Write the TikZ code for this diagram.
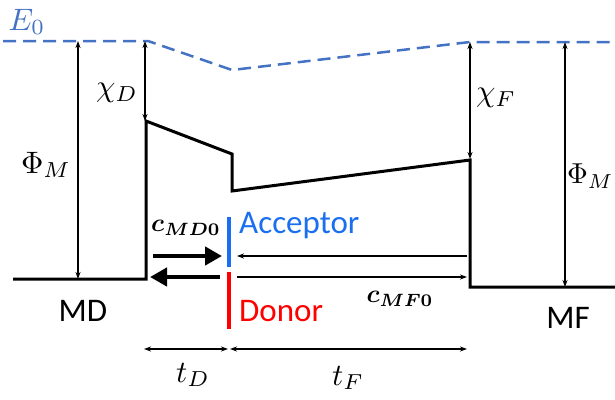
\documentclass[tikz,border=0pt]{standalone}
\usepackage{amsmath}
\usepackage{fontspec}
\setmainfont{Carlito}
\usetikzlibrary{arrows.meta}
\definecolor{vacblue}{HTML}{4472C4}
\definecolor{accblue}{HTML}{1A6EF0}
\definecolor{donred}{HTML}{FF0000}
\tikzset{
  band/.style={line width=3pt, line join=miter},
  vac/.style={vacblue, line width=2.5pt, dash pattern=on 13pt off 7pt},
  dim/.style={line width=1.2pt, {Stealth[length=7pt,width=5pt]}-{Stealth[length=7pt,width=5pt]}},
  thinarr/.style={line width=1.2pt, -{Stealth[length=7pt,width=5pt]}},
  fatarr/.style={line width=4.5pt, -{Triangle[length=17pt,width=18pt]}},
  txt/.style={font=\fontsize{33}{36}\selectfont, inner sep=0pt},
  mth/.style={font=\fontsize{10}{12}\selectfont, inner sep=0pt, scale=3.1, transform shape},
  cmth/.style={mth, scale=0.82},
}
\begin{document}
\begin{tikzpicture}[x=1pt,y=-1pt]
\useasboundingbox (0,0) rectangle (615,399);
% coordinates
\coordinate (v0) at (3,41);
\coordinate (v1) at (148,41);
\coordinate (v2) at (232,70);
\coordinate (v3) at (470,42);
\coordinate (v4) at (615,42);
\coordinate (b0) at (13,279);
\coordinate (b1) at (146,279);
\coordinate (b2) at (146,121);
\coordinate (b3) at (232,154);
\coordinate (b4) at (232,191);
\coordinate (b5) at (470,160);
\coordinate (b6) at (470,287);
\coordinate (b7) at (615,287);
% vacuum level
\draw[vac] (v0) -- (v1) -- (v2) -- (v3) -- (v4);
% band
\draw[band] (b0) -- (b1) -- (b2) -- (b3) -- (b4) -- (b5) -- (b6) -- (b7);
% energy arrows
\coordinate (pl1) at (78,41);  \coordinate (pl2) at (78,279);
\coordinate (cd1) at (145,41); \coordinate (cd2) at (145,121);
\coordinate (cf1) at (470,42); \coordinate (cf2) at (470,159);
\coordinate (pr1) at (565,42); \coordinate (pr2) at (565,287);
\draw[dim] (pl1) -- (pl2);
\draw[dim] (cd1) -- (cd2);
\draw[dim] (cf1) -- (cf2);
\draw[dim] (pr1) -- (pr2);
% interface lines
\coordinate (a1) at (229,217); \coordinate (a2) at (229,267);
\coordinate (d1) at (229,272); \coordinate (d2) at (229,329);
\draw[accblue, line width=3.5pt] (a1) -- (a2);
\draw[donred, line width=3.5pt] (d1) -- (d2);
% fat arrows
\coordinate (f1) at (153,256); \coordinate (f2) at (222,256);
\coordinate (f3) at (220,277); \coordinate (f4) at (150,277);
\draw[fatarr] (f1) -- (f2);
\draw[fatarr] (f3) -- (f4);
% thin arrows
\coordinate (t1) at (467,256); \coordinate (t2) at (237,256);
\coordinate (t3) at (237,277); \coordinate (t4) at (467,277);
\draw[thinarr] (t1) -- (t2);
\draw[thinarr] (t3) -- (t4);
% thickness arrows
\coordinate (w1) at (144,349); \coordinate (w2) at (228,349);
\coordinate (w3) at (230,349); \coordinate (w4) at (467,349);
\draw[dim] (w1) -- (w2);
\draw[dim] (w3) -- (w4);
% labels
\node[mth, text=vacblue] (e0) at (27,22) {$E_0$};
\node[mth] (phil) at (46,165) {$\Phi_M$};
\node[mth] (chid) at (117,93) {$\chi_D$};
\node[mth] (chif) at (496,98) {$\chi_F$};
\node[mth, scale=0.93, anchor=east] (phir) at (614,176) {$\Phi_M$};
\node[cmth] (cmd) at (186,228) {$\boldsymbol{c}_{\boldsymbol{MD0}}$};
\node[cmth] (cmf) at (400,299) {$\boldsymbol{c}_{\boldsymbol{MF0}}$};
\node[txt, text=accblue, anchor=base west] (acc) at (239,233) {Acceptor};
\node[txt, text=donred, anchor=base west] (don) at (239,321) {Donor};
\node[txt, anchor=base] (md) at (83,321) {MD};
\node[txt, anchor=base] (mf) at (568,328) {MF};
\node[mth] (td) at (193,375) {$t_D$};
\node[mth] (tf) at (348,378) {$t_F$};
\end{tikzpicture}
\end{document}
